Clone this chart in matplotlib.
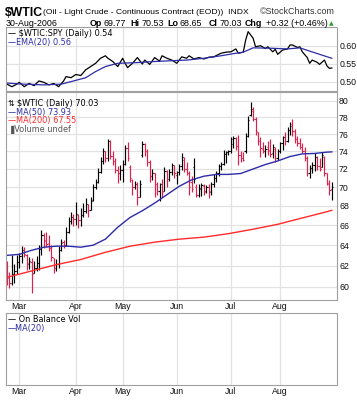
import matplotlib
matplotlib.use('Agg')
import matplotlib.pyplot as plt
import numpy as np
import pandas as pd
from matplotlib.ticker import FixedLocator, FuncFormatter, NullLocator

# ---------------- data ----------------
holidays = ['2006-04-14', '2006-05-29', '2006-07-04']
dates = [d for d in pd.bdate_range('2006-02-22', '2006-08-30')
         if d.strftime('%Y-%m-%d') not in holidays]

opens = [61.8, 60.9, 60.4, 61.2, 61.5, 62.4, 62.9, 63.5, 63.0, 62.2,
         62.4, 61.3, 61.8, 62.3, 63.6, 65.0, 64.5, 64.2, 63.7, 62.7,
         61.8, 62.2, 63.5, 64.3, 64.0, 65.3, 66.4, 66.8, 66.6, 67.1,
         66.5, 67.1, 67.5, 68.2, 67.6, 68.6, 70.0, 70.6, 71.7, 72.9,
         74.0, 73.2, 75.2, 73.5, 72.9, 71.9, 71.6, 71.9, 72.6, 74.4,
         72.2, 70.8, 70.0, 70.4, 69.0, 73.6, 74.8, 74.0, 72.8, 71.2,
         71.6, 70.3, 69.6, 70.3, 69.6, 71.8, 70.9, 71.7, 72.4, 71.3,
         71.7, 72.3, 73.0, 72.0, 71.5, 70.6, 72.2, 70.0, 69.2, 69.8,
         70.1, 69.6, 70.0, 69.5, 70.4, 71.0, 71.6, 72.3, 72.6, 73.7,
         73.9, 74.0, 74.8, 75.5, 74.6, 73.6, 73.2, 74.0, 75.8, 78.3,
         78.8, 77.8, 76.2, 75.2, 74.3, 74.0, 74.5, 74.2, 73.8, 74.3,
         73.2, 74.0, 74.9, 75.6, 75.2, 76.5, 77.2, 76.3, 75.4, 74.9,
         74.5, 74.0, 73.2, 71.6, 72.1, 72.5, 73.4, 72.3, 72.2, 73.4,
         71.5, 70.4, 69.77]
highs = [62.5, 61.4, 63.0, 62.2, 63.0, 63.2, 63.9, 63.8, 63.1, 62.8,
         62.7, 62.5, 62.9, 64.0, 65.5, 65.2, 65.3, 65.0, 64.0, 62.7,
         62.6, 63.9, 64.6, 64.5, 65.8, 66.9, 67.4, 67.2, 68.4, 67.2,
         67.8, 68.3, 68.8, 68.2, 68.9, 70.4, 70.9, 72.1, 73.3, 74.4,
         74.0, 75.4, 75.3, 74.0, 73.2, 72.3, 72.5, 73.0, 74.7, 75.1,
         72.5, 70.9, 70.7, 70.6, 70.8, 75.2, 74.9, 74.3, 73.0, 72.0,
         71.6, 70.6, 70.5, 70.9, 72.2, 71.9, 72.0, 72.7, 72.4, 71.8,
         72.6, 73.8, 73.3, 72.8, 71.8, 71.2, 73.2, 70.4, 70.3, 70.5,
         70.4, 70.2, 70.3, 70.6, 71.4, 71.8, 72.6, 72.8, 74.1, 74.0,
         74.2, 75.7, 75.8, 75.6, 75.9, 74.0, 73.9, 76.1, 78.2, 79.8,
         79.3, 78.0, 76.2, 75.6, 75.1, 74.7, 75.2, 75.4, 74.8, 74.5,
         74.3, 75.1, 75.8, 76.2, 76.8, 77.4, 77.8, 76.6, 75.8, 75.5,
         74.9, 74.5, 73.5, 72.4, 72.8, 73.8, 73.5, 73.2, 73.9, 73.5,
         71.6, 70.8, 70.53]
lows = [60.2, 59.9, 60.2, 60.4, 61.2, 61.8, 62.3, 62.8, 61.6, 61.7,
        59.4, 61.3, 61.5, 61.6, 63.0, 63.7, 63.8, 63.4, 62.5, 61.3,
        61.5, 61.8, 63.4, 63.7, 63.9, 65.2, 66.1, 65.9, 66.0, 65.7,
        65.9, 66.9, 67.3, 66.9, 67.6, 68.5, 69.8, 70.5, 71.6, 72.6,
        72.8, 72.9, 73.1, 72.5, 71.5, 70.5, 70.8, 70.6, 72.5, 72.9,
        70.6, 69.2, 69.8, 68.1, 68.9, 73.4, 73.5, 72.3, 70.6, 70.8,
        69.0, 69.2, 68.5, 69.0, 69.6, 70.0, 70.7, 71.3, 71.0, 70.3,
        71.3, 71.9, 71.7, 71.3, 69.2, 69.5, 70.5, 68.9, 68.9, 69.1,
        69.2, 69.4, 68.8, 69.2, 70.0, 70.6, 71.2, 71.9, 72.4, 72.7,
        73.6, 73.8, 74.4, 74.2, 72.5, 72.8, 72.9, 73.8, 75.6, 78.1,
        77.5, 75.9, 74.7, 73.4, 73.8, 73.3, 73.6, 73.3, 73.2, 72.8,
        73.0, 73.8, 74.2, 74.7, 75.1, 75.9, 75.8, 75.0, 74.6, 74.3,
        73.8, 72.9, 71.2, 71.0, 71.5, 71.8, 71.9, 71.8, 72.2, 71.2,
        70.2, 69.2, 68.65]
closes = [60.8, 60.4, 61.2, 61.5, 62.4, 62.9, 63.5, 63.1, 62.3, 62.5,
          61.2, 61.8, 62.3, 63.6, 65.0, 64.4, 64.1, 63.7, 62.8, 61.8,
          62.2, 63.5, 64.2, 64.0, 65.3, 66.4, 66.8, 66.6, 67.2, 66.5,
          67.1, 67.5, 68.2, 67.6, 68.5, 70.0, 70.6, 71.7, 72.9, 74.0,
          73.2, 75.2, 73.5, 72.9, 71.9, 71.6, 71.9, 72.6, 74.4, 73.2,
          71.0, 70.0, 70.4, 69.0, 70.3, 74.8, 74.0, 72.8, 71.2, 71.6,
          70.3, 69.6, 70.3, 69.5, 71.8, 70.9, 71.7, 72.4, 71.6, 71.7,
          72.3, 73.4, 72.0, 71.5, 70.0, 69.8, 70.9, 69.2, 69.9, 70.2,
          69.5, 70.0, 69.6, 70.4, 71.0, 71.6, 72.3, 72.6, 73.7, 73.9,
          74.0, 75.4, 75.5, 74.6, 73.6, 73.2, 73.0, 75.8, 77.7, 79.0,
          77.8, 76.3, 75.2, 74.4, 74.0, 74.3, 74.0, 73.7, 74.5, 73.2,
          74.0, 74.9, 75.6, 75.2, 76.5, 77.0, 76.3, 75.4, 74.9, 74.5,
          74.0, 73.2, 71.6, 72.1, 72.5, 73.4, 72.3, 72.0, 73.6, 71.5,
          70.5, 69.7, 70.03]

ma50_day = [0, 5, 10, 15, 20, 25, 30, 35, 40, 45, 50, 55, 60, 65, 70, 75,
            80, 85, 90, 95, 100, 105, 110, 115, 120, 125, 130, 132]
ma50_val = [63.0, 63.1, 63.5, 63.8, 63.9, 63.9, 63.8, 64.0, 64.6, 65.8,
            66.8, 67.5, 68.3, 69.2, 70.1, 70.8, 71.2, 71.4, 71.4, 71.5,
            72.0, 72.5, 72.9, 73.4, 73.7, 73.75, 73.9, 73.93]
ma200_day = [0, 10, 20, 30, 40, 50, 60, 70, 80, 90, 100, 110, 120, 130, 132]
ma200_val = [60.9, 61.5, 62.1, 62.6, 63.3, 63.9, 64.3, 64.6, 64.8, 65.15,
             65.6, 66.1, 66.75, 67.4, 67.55]

ratio_day = [0, 2, 4, 5, 7, 9, 11, 13, 15, 17, 19, 21, 23, 24, 26, 28, 30,
             32, 34, 36, 38, 40, 41, 43, 45, 47, 48, 49, 51, 53, 55, 56, 58,
             60, 62, 63, 65, 67, 69, 71, 73, 74, 76, 78, 80, 82, 84, 87, 89,
             91, 93, 94, 96, 97, 98, 100, 101, 103, 105, 106, 108, 109, 110,
             112, 114, 115, 116, 118, 119, 120, 122, 123, 124, 126, 127, 129,
             130, 131, 132]
ratio_val = [0.493, 0.486, 0.493, 0.498, 0.486, 0.495, 0.489, 0.502, 0.498,
             0.491, 0.495, 0.486, 0.502, 0.514, 0.511, 0.520, 0.517, 0.533,
             0.542, 0.551, 0.565, 0.572, 0.565, 0.556, 0.542, 0.565, 0.551,
             0.539, 0.551, 0.567, 0.549, 0.560, 0.548, 0.567, 0.557, 0.572,
             0.565, 0.560, 0.551, 0.569, 0.565, 0.572, 0.563, 0.567, 0.563,
             0.568, 0.569, 0.579, 0.582, 0.583, 0.591, 0.579, 0.582, 0.616,
             0.639, 0.621, 0.597, 0.600, 0.592, 0.597, 0.583, 0.590, 0.576,
             0.588, 0.591, 0.602, 0.602, 0.595, 0.597, 0.583, 0.567, 0.551,
             0.560, 0.554, 0.548, 0.560, 0.544, 0.537, 0.538]
ema_day = [0, 7, 15, 22, 26, 32, 36, 40, 45, 53, 60, 66, 73, 80, 87, 93,
           96, 100, 107, 114, 119, 123, 127, 132]
ema_val = [0.496, 0.493, 0.491, 0.493, 0.500, 0.511, 0.528, 0.542, 0.551,
           0.553, 0.556, 0.558, 0.560, 0.565, 0.572, 0.579, 0.582, 0.594,
           0.593, 0.591, 0.594, 0.585, 0.576, 0.565]

price_ticks = [60, 62, 64, 66, 68, 70, 72, 74, 76, 78, 80]
ratio_ticks = [0.50, 0.55, 0.60]

# ---------------- styling ----------------
RED = '#e0204a'
BLUE = '#2c2ca8'
MARED = '#ff2a2a'
GRID = '#e2e2e2'
FONT = 'Liberation Sans'
LFONT = 'DejaVu Sans'

W, H = 357, 400
fig = plt.figure(figsize=(W / 100, H / 100), dpi=100)
fig.patch.set_facecolor('white')


def box(x0, y0, x1, y1):
    return [x0 / W, 1 - y1 / H, (x1 - x0) / W, (y1 - y0) / H]


ax_top = fig.add_axes(box(6, 27, 337, 91))
ax_main = fig.add_axes(box(6, 92, 337, 300))
ax_bot = fig.add_axes(box(6, 313, 337, 385))

n = len(closes)
idx = np.arange(n)
month_pos = [i for i in range(1, n) if dates[i].month != dates[i - 1].month]
month_lab = [dates[i].strftime('%b') for i in month_pos]

for ax in (ax_top, ax_main, ax_bot):
    ax.set_xlim(-0.4, 134.1)
    ax.set_xticks(month_pos)
    ax.set_xticklabels(month_lab)
    ax.grid(True, color=GRID, lw=0.9)
    ax.set_axisbelow(True)
    ax.yaxis.tick_right()
    ax.tick_params(length=0, labelsize=6.3, pad=2, labelcolor='#111111')
    for lab in ax.get_xticklabels() + ax.get_yticklabels():
        lab.set_fontfamily(FONT)
    for s in ax.spines.values():
        s.set_color('#a0a0a0')
        s.set_linestyle((0, (1, 1)))
        s.set_linewidth(0.8)

# top panel
ax_top.plot(ratio_day, ratio_val, color='black', lw=0.9)
ax_top.plot(ema_day, ema_val, color=BLUE, lw=0.9)
ax_top.set_ylim(0.474, 0.652)
ax_top.set_yticks(ratio_ticks)
ax_top.yaxis.set_major_formatter(FuncFormatter(lambda v, p: f'{v:.2f}'))
ax_top.tick_params(labelbottom=False)

# main panel
c = np.array(closes)
prev = np.r_[np.inf, c[:-1]]
cols = [('black' if c[i] >= prev[i] else RED) for i in range(n)]
ax_main.vlines(idx, lows, highs, colors=cols, lw=0.85)
ax_main.hlines(opens, idx - 0.5, idx, colors=cols, lw=0.8)
ax_main.hlines(closes, idx, idx + 0.5, colors=cols, lw=0.8)
ax_main.plot(ma50_day, ma50_val, color=BLUE, lw=1.0)
ax_main.plot(ma200_day, ma200_val, color=MARED, lw=1.0)
ax_main.set_yscale('log')
ax_main.set_ylim(58.8, 81.1)
ax_main.yaxis.set_major_locator(FixedLocator(price_ticks))
ax_main.yaxis.set_minor_locator(NullLocator())
ax_main.yaxis.set_major_formatter(FuncFormatter(lambda v, p: f'{v:.0f}'))
ax_main.tick_params(labelbottom=True, pad=1.5)
for lab in ax_main.get_yticklabels():
    lab.set_fontfamily(FONT)

# bottom panel
ax_bot.set_ylim(0, 1)
ax_bot.set_yticks([])
ax_bot.tick_params(labelbottom=True, pad=1.5)


# ---------------- texts ----------------
def ftext(x, y, s, **kw):
    kw.setdefault('fontsize', 6.4)
    kw.setdefault('family', FONT)
    return fig.text(x / W, 1 - y / H, s, **kw)


ftext(5, 15.5, r'\$WTIC', fontsize=8.8, fontweight='bold', va='baseline')
ftext(43, 14.5, '(Oil - Light Crude - Continuous Contract (EOD))  INDX',
      fontsize=6.1, va='baseline')
ftext(335, 14.0, '\u00a9StockCharts.com', fontsize=6.4, va='baseline',
      ha='right', color='#333333')

ftext(6, 25.5, '30-Aug-2006', va='baseline')
pieces = [(90, 'Op', True), (104, '69.77', False), (130, 'Hi', True),
          (141, '70.53', False), (167, 'Lo', True), (180, '68.65', False),
          (209, 'Cl', True), (219, '70.03', False), (245, 'Chg', True),
          (266, '+0.32 (+0.46%)', False)]
for x, s, b in pieces:
    ftext(x, 25.5, s, va='baseline', fontweight='bold' if b else 'normal')
ftext(329, 25.5, '\u25b2', fontsize=4.3, va='baseline', color='#2a9a2a',
      family=LFONT)

# panel legends
ftext(8, 33.5, '\u2014 \\$WTIC:SPY (Daily) 0.54', family=LFONT, fontsize=5.9,
      va='center', color='black')
ftext(8, 42, '\u2014EMA(20) 0.56', family=LFONT, fontsize=5.9, va='center',
      color=BLUE)

ftext(8, 103.5, '\u21c5', family=LFONT, fontsize=5.9, va='center', color='black')
ftext(17, 103.5, '\\$WTIC (Daily) 70.03', family=LFONT, fontsize=5.9,
      va='center', color='black')
ftext(8, 112.5, '\u2014MA(50) 73.93', family=LFONT, fontsize=5.9,
      va='center', color=BLUE)
ftext(8, 121, '\u2014MA(200) 67.55', family=LFONT, fontsize=5.9,
      va='center', color=MARED)
ftext(8, 129.5, '\u2590Volume undef', family=LFONT, fontsize=5.9,
      va='center', color='#555555')

ftext(8, 319.5, '\u2014 On Balance Vol', family=LFONT, fontsize=5.9,
      va='center', color='black')
ftext(8, 328, '\u2014MA(20)', family=LFONT, fontsize=5.9, va='center',
      color=BLUE)

fig.savefig('out.png', dpi=100, facecolor='white')
